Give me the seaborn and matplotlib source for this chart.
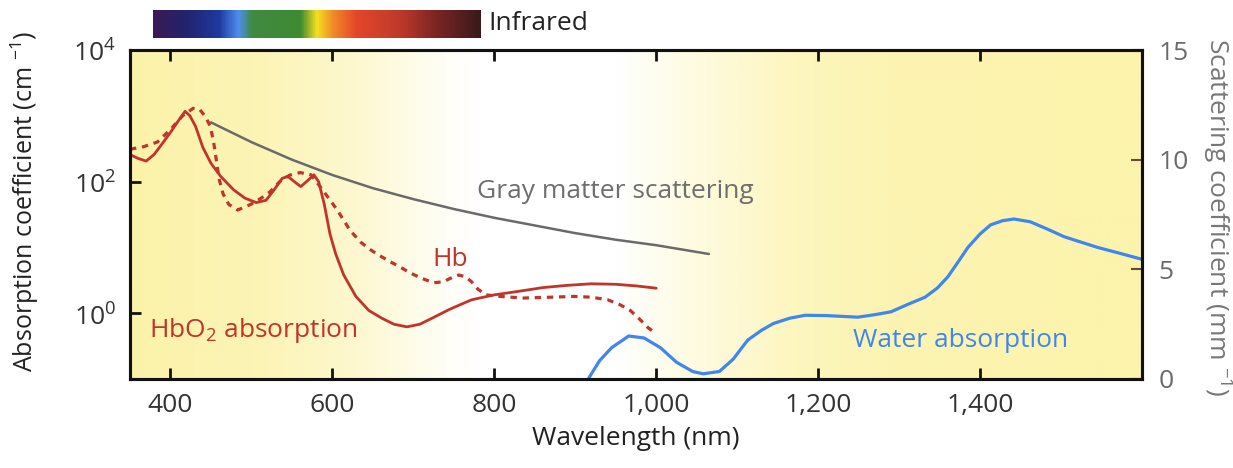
import numpy as np
import pandas as pd
import seaborn as sns
import matplotlib.pyplot as plt
from matplotlib.colors import LinearSegmentedColormap
from matplotlib.ticker import FixedLocator, FuncFormatter

# Curves (wavelength in nm, absorption in cm^-1)
hbo2_nm = [350, 360, 370, 380, 390, 400, 410, 418, 424, 431, 440, 450, 462, 478, 492, 506, 518, 528,
           538, 545, 552, 561, 570, 577, 583, 590, 597, 604, 614, 629, 645, 661, 676, 692, 708, 724,
           745, 772, 800, 830, 860, 890, 920, 950, 975, 1000]
hbo2_abs = [257, 225, 205, 260, 380, 560, 850, 1170, 1000, 690, 330, 190, 120, 75, 56, 48, 52, 75,
            112, 120, 102, 84, 105, 127, 100, 45, 16, 8.0, 3.8, 1.8, 1.1, 0.84, 0.68, 0.62, 0.68, 0.85,
            1.15, 1.6, 1.9, 2.15, 2.45, 2.65, 2.8, 2.75, 2.6, 2.4]

hb_nm = [350, 367, 384, 400, 415, 428, 436, 443, 449, 453, 456, 460, 465, 472, 483, 499, 512, 523,
         535, 547, 560, 573, 583, 594, 606, 622, 635, 647, 660, 672, 684, 696, 710, 725, 737, 748,
         756, 764, 772, 780, 790, 807, 836, 870, 898, 920, 940, 955, 968, 980, 990, 1000]
hb_abs = [310, 340, 400, 620, 1000, 1300, 1250, 980, 700, 420, 240, 110, 65, 45, 37, 45, 56, 70,
          100, 125, 137, 128, 90, 59, 37, 18, 12, 9.2, 7.3, 6.0, 5.0, 4.1, 3.4, 2.9, 3.0, 3.5,
          3.8, 3.6, 3.0, 2.3, 1.9, 1.8, 1.7, 1.75, 1.8, 1.75, 1.6, 1.35, 1.1, 0.8, 0.6, 0.49]

water_nm = [916, 930, 945, 966, 985, 1005, 1025, 1045, 1058, 1078, 1095, 1113, 1130, 1145, 1165,
            1184, 1210, 1249, 1270, 1290, 1310, 1332, 1347, 1360, 1372, 1385, 1400, 1413, 1428,
            1442, 1462, 1483, 1504, 1525, 1545, 1570, 1594, 1600]
water_abs = [0.1, 0.19, 0.3, 0.45, 0.42, 0.3, 0.18, 0.13, 0.12, 0.13, 0.2, 0.39, 0.55, 0.70, 0.84,
             0.93, 0.92, 0.87, 0.95, 1.05, 1.35, 1.75, 2.4, 3.55, 5.8, 10, 16, 22, 25.5,
             27, 24.5, 19, 14.5, 12, 10, 8.3, 6.9, 6.6]

# gray matter scattering, mm^-1 (right axis)
gray_nm = [450, 500, 550, 600, 650, 700, 750, 800, 850, 900, 950, 1000, 1065]
gray_mus = [11.7, 10.8, 10.0, 9.3, 8.7, 8.2, 7.75, 7.35, 7.0, 6.65, 6.35, 6.1, 5.7]

x_ticks = [400, 600, 800, 1000, 1200, 1400]
x_ticklabels = ["400", "600", "800", "1,000", "1,200", "1,400"]

sns.set_theme(style="ticks")
plt.rcParams["font.family"] = ["Open Sans", "DejaVu Sans"]
plt.rcParams["mathtext.fontset"] = "custom"
plt.rcParams["mathtext.rm"] = "Open Sans"

RED = "#c0342b"
GRAY = "#6a6a6a"
BLUE = "#3f86ee"
fs = 19

fig = plt.figure(figsize=(12.33, 4.68), dpi=100)
pos = [130 / 1233, 1 - 379 / 468, (1142 - 130) / 1233, (379 - 50) / 468]

# yellow/white background gradient
bg = fig.add_axes(pos, zorder=0)
bg_cmap = LinearSegmentedColormap.from_list(
    "bg", [(0.0, "#fbf2aa"), (0.12, "#fcf4b4"), (0.22, "#fdf8cf"), (0.31, "#fffef6"), (0.34, "#ffffff"),
           (0.48, "#ffffff"), (0.56, "#fefbe0"), (0.66, "#fdf6be"), (0.75, "#fcf4b2"), (1.0, "#fcf3ac")])
bg.imshow(np.linspace(0, 1, 500)[None, :], cmap=bg_cmap, aspect="auto", extent=[0, 1, 0, 1])
bg.set_axis_off()

ax = fig.add_axes(pos, zorder=1)
ax.patch.set_visible(False)
ax2 = ax.twinx()
ax2.set_zorder(2)
ax2.patch.set_visible(False)

sns.lineplot(x=hbo2_nm, y=hbo2_abs, ax=ax, color=RED, lw=2, sort=False)
sns.lineplot(x=hb_nm, y=hb_abs, ax=ax, color=RED, lw=2.3, linestyle=(0, (2.0, 1.8)), sort=False)
sns.lineplot(x=water_nm, y=water_abs, ax=ax, color=BLUE, lw=2.3, sort=False)
sns.lineplot(x=gray_nm, y=gray_mus, ax=ax2, color=GRAY, lw=1.8, sort=False)

ax.set_yscale("log")
ax.set_xlim(350, 1600)
ax.set_ylim(0.1, 1e4)
ax2.set_ylim(0, 15)

ax.xaxis.set_major_locator(FixedLocator(x_ticks))
ax.set_xticklabels(x_ticklabels, fontsize=fs, color="#333333")
ax.yaxis.set_major_locator(FixedLocator([1, 100, 1e4]))
ax.yaxis.set_minor_locator(FixedLocator([]))
ax.yaxis.set_major_formatter(FuncFormatter(lambda v, p: r"10$^{\mathregular{%d}}$" % round(np.log10(v))))
ax.tick_params(axis="y", labelsize=fs, labelcolor="#333333", pad=10)
ax.tick_params(axis="both", which="major", direction="in", length=8, width=2, top=True, color="#111111")
ax.tick_params(axis="x", pad=10)
ax2.set_yticks([0, 5, 10, 15])
ax2.tick_params(axis="y", direction="in", length=8, width=1.5, labelsize=fs, labelcolor="#6a6a6a",
                color="#6b4a3a", pad=12)

for a in (ax, ax2):
    for s in a.spines.values():
        s.set_linewidth(2.2)
        s.set_color("#111111")

ax.set_xlabel("Wavelength (nm)", fontsize=fs, color="#222222", labelpad=6)
ax.set_ylabel(r"Absorption coefficient (cm $^{\mathregular{-1}}$)", fontsize=18, color="#222222",
              va="center")
ax.yaxis.set_label_coords(-0.104, 0.54)
ax2.set_ylabel(r"Scattering coefficient (mm $^{\mathregular{-1}}$)", fontsize=fs, color="#777777",
               rotation=270, va="center")
ax2.yaxis.set_label_coords(1.075, 0.49)

ax.text(779, 70, "Gray matter scattering", fontsize=fs, color="#6e6e6e", va="center")
ax.text(724, 6.5, "Hb", fontsize=fs, color=RED, va="center")
ax.text(373, 0.55, r"HbO$_{\mathregular{2}}$ absorption", fontsize=fs, color=RED, va="center")
ax.text(1243, 0.39, "Water absorption", fontsize=fs, color=BLUE, va="center")

# visible spectrum bar
spec = LinearSegmentedColormap.from_list(
    "spec", [(0.0, "#3a1a55"), (0.1, "#22236e"), (0.2, "#1e3aa0"), (0.26, "#4f8ef0"),
             (0.3, "#3f8a44"), (0.45, "#3f8a30"), (0.5, "#f5e020"), (0.55, "#f08a28"),
             (0.62, "#e5462a"), (0.75, "#c03a2a"), (0.87, "#7a2424"), (1.0, "#3a1a1a")])
cb = fig.add_axes([153 / 1233, 1 - 38 / 468, (480 - 153) / 1233, 28 / 468])
cb.imshow(np.linspace(0, 1, 400)[None, :], cmap=spec, aspect="auto")
cb.set_axis_off()
fig.text(488 / 1233, 1 - 23 / 468, "Infrared", fontsize=fs, color="#222222", va="center")

fig.savefig("out.png", dpi=100)
